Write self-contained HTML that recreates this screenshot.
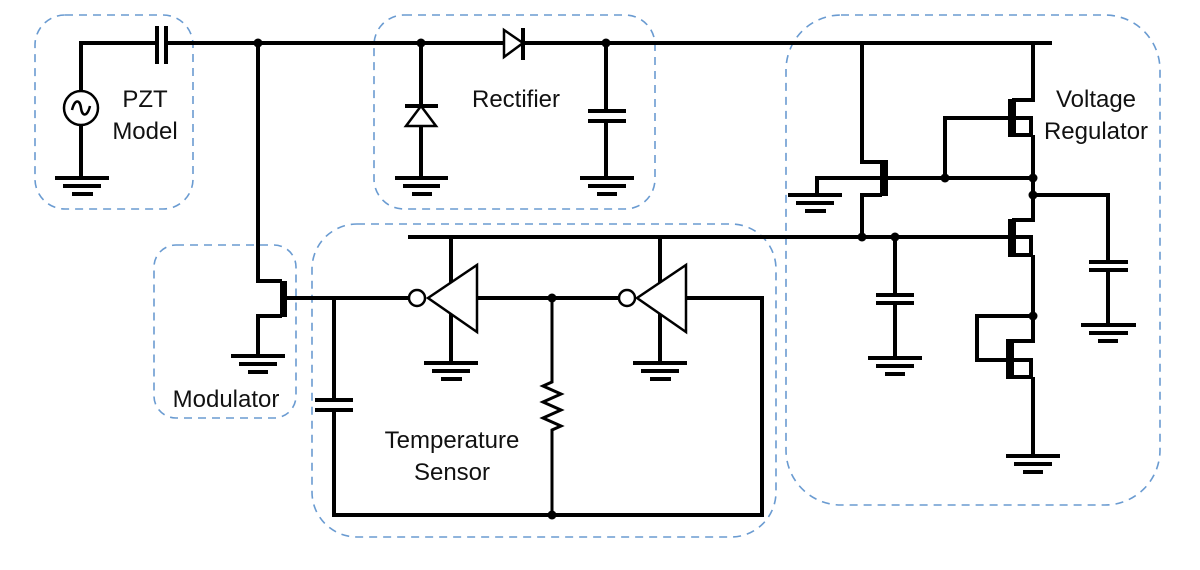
<!DOCTYPE html>
<html><head><meta charset="utf-8"><style>
html,body{margin:0;padding:0;background:#fff;width:1200px;height:570px;overflow:hidden}
text{font-family:"Liberation Sans",Arial,sans-serif;font-size:24px;fill:#111;text-anchor:middle}
</style></head><body>
<svg width="1200" height="570" viewBox="0 0 1200 570" xmlns="http://www.w3.org/2000/svg">
<g fill="none" stroke="#6a9bd1" stroke-width="1.6" stroke-dasharray="8,6">
<rect x="35" y="15" width="158" height="194" rx="30"/>
<rect x="374" y="15" width="281" height="194" rx="30"/>
<rect x="786" y="15" width="374" height="490" rx="55"/>
<rect x="154" y="245" width="142" height="173" rx="22"/>
<rect x="312" y="224" width="464" height="313" rx="45"/>
</g>
<g fill="none" stroke="#000" stroke-width="4" stroke-linecap="butt">
<path d="M81 108 V43 H157 M166 43 H504 M523 43 H1052"/>
<path d="M157 26 V64 M166 26 V64"/>
<path d="M81 125 V178"/>
<path d="M258 43 V281 H282 M282 316 H258 V356"/>
<path d="M286 298 H409"/>
<path d="M421 43 V106 M421 126 V178 M405 106 H438"/>
<path d="M606 43 V111 M606 121 V178 M588 111 H626 M588 121 H626"/>
<path d="M523 28 V60"/>
<path d="M408 237 H1008"/>
<path d="M451 237 V283 M451 313 V363 M660 237 V283 M660 313 V363"/>
<path d="M477 298 H619 M686 298 H762 V515 H334 V410 M334 400 V298"/>
<path d="M315 400 H353 M315 410 H353"/>
<path d="M552 298 V382 L543 386 L561 394 L543 402 L561 410 L543 418 L561 426 L552 430 V515" stroke-width="3"/>
<path d="M862 43 V162 H882 M882 195 H862 V237"/>
<path d="M817 195 V178 H880 M888 178 H1033"/>
<path d="M1033 43 V100 H1012 M1012 118 H945 V178 M1016 118 H1031 V135 H1012 M1033 135 V220 H1012"/>
<path d="M1016 237 H1031 V255 H1012 M1033 255 V341 H1012"/>
<path d="M1033 195 H1108 V262 M1108 270 V325 M1089 262 H1128 M1089 270 H1128"/>
<path d="M895 237 V295 M895 303 V358 M876 295 H914 M876 303 H914"/>
<path d="M1033 316 H977 V360 H1008 M1012 360 H1031 V377 H1012 M1033 377 V456"/>
</g>
<g fill="#000">
<rect x="280" y="281" width="7" height="36"/>
<rect x="880" y="160" width="8" height="36"/>
<rect x="1008" y="99" width="8" height="38"/>
<rect x="1008" y="219" width="8" height="38"/>
<rect x="1006" y="339" width="8" height="40"/>
</g>
<g stroke="#000" stroke-width="4">
<path d="M55 178 H109 M63 186 H101 M72 194 H93"/>
<path d="M395 178 H448 M403 186 H440 M412 194 H432"/>
<path d="M580 178 H634 M588 186 H626 M597 194 H617"/>
<path d="M788 195 H842 M796 203 H834 M805 211 H826"/>
<path d="M231 356 H285 M239 364 H277 M248 372 H268"/>
<path d="M424 363 H478 M432 371 H470 M441 379 H462"/>
<path d="M633 363 H687 M641 371 H679 M650 379 H671"/>
<path d="M868 358 H922 M876 366 H914 M885 374 H905"/>
<path d="M1081 325 H1136 M1089 333 H1128 M1098 341 H1118"/>
<path d="M1006 456 H1060 M1014 464 H1052 M1023 472 H1043"/>
</g>
<g fill="#fff" stroke="#000" stroke-width="2.5">
<circle cx="81" cy="108" r="17"/>
<path d="M72 110 C75 98 80 100 81 108 C82 116 87 118 90 106" fill="none"/>
<path d="M421 106 L406 126 H436 Z"/>
<path d="M504 30 L523 43 L504 57 Z"/>
<circle cx="417" cy="298" r="8"/>
<path d="M428 298 L477 265 V332 Z"/>
<circle cx="627" cy="298" r="8"/>
<path d="M637 298 L686 265 V332 Z"/>
</g>
<g fill="#000">
<circle cx="258" cy="43" r="4.5"/><circle cx="421" cy="43" r="4.5"/><circle cx="606" cy="43" r="4.5"/>
<circle cx="552" cy="298" r="4.5"/><circle cx="552" cy="515" r="4.5"/>
<circle cx="945" cy="178" r="4.5"/><circle cx="1033" cy="178" r="4.5"/><circle cx="1033" cy="195" r="4.5"/>
<circle cx="862" cy="237" r="4.5"/><circle cx="895" cy="237" r="4.5"/><circle cx="1033" cy="316" r="4.5"/>
</g>
<text x="145" y="107">PZT</text>
<text x="145" y="139">Model</text>
<text x="516" y="107">Rectifier</text>
<text x="1096" y="107">Voltage</text>
<text x="1096" y="139">Regulator</text>
<text x="226" y="407">Modulator</text>
<text x="452" y="448">Temperature</text>
<text x="452" y="480">Sensor</text>
</svg>
</body></html>
